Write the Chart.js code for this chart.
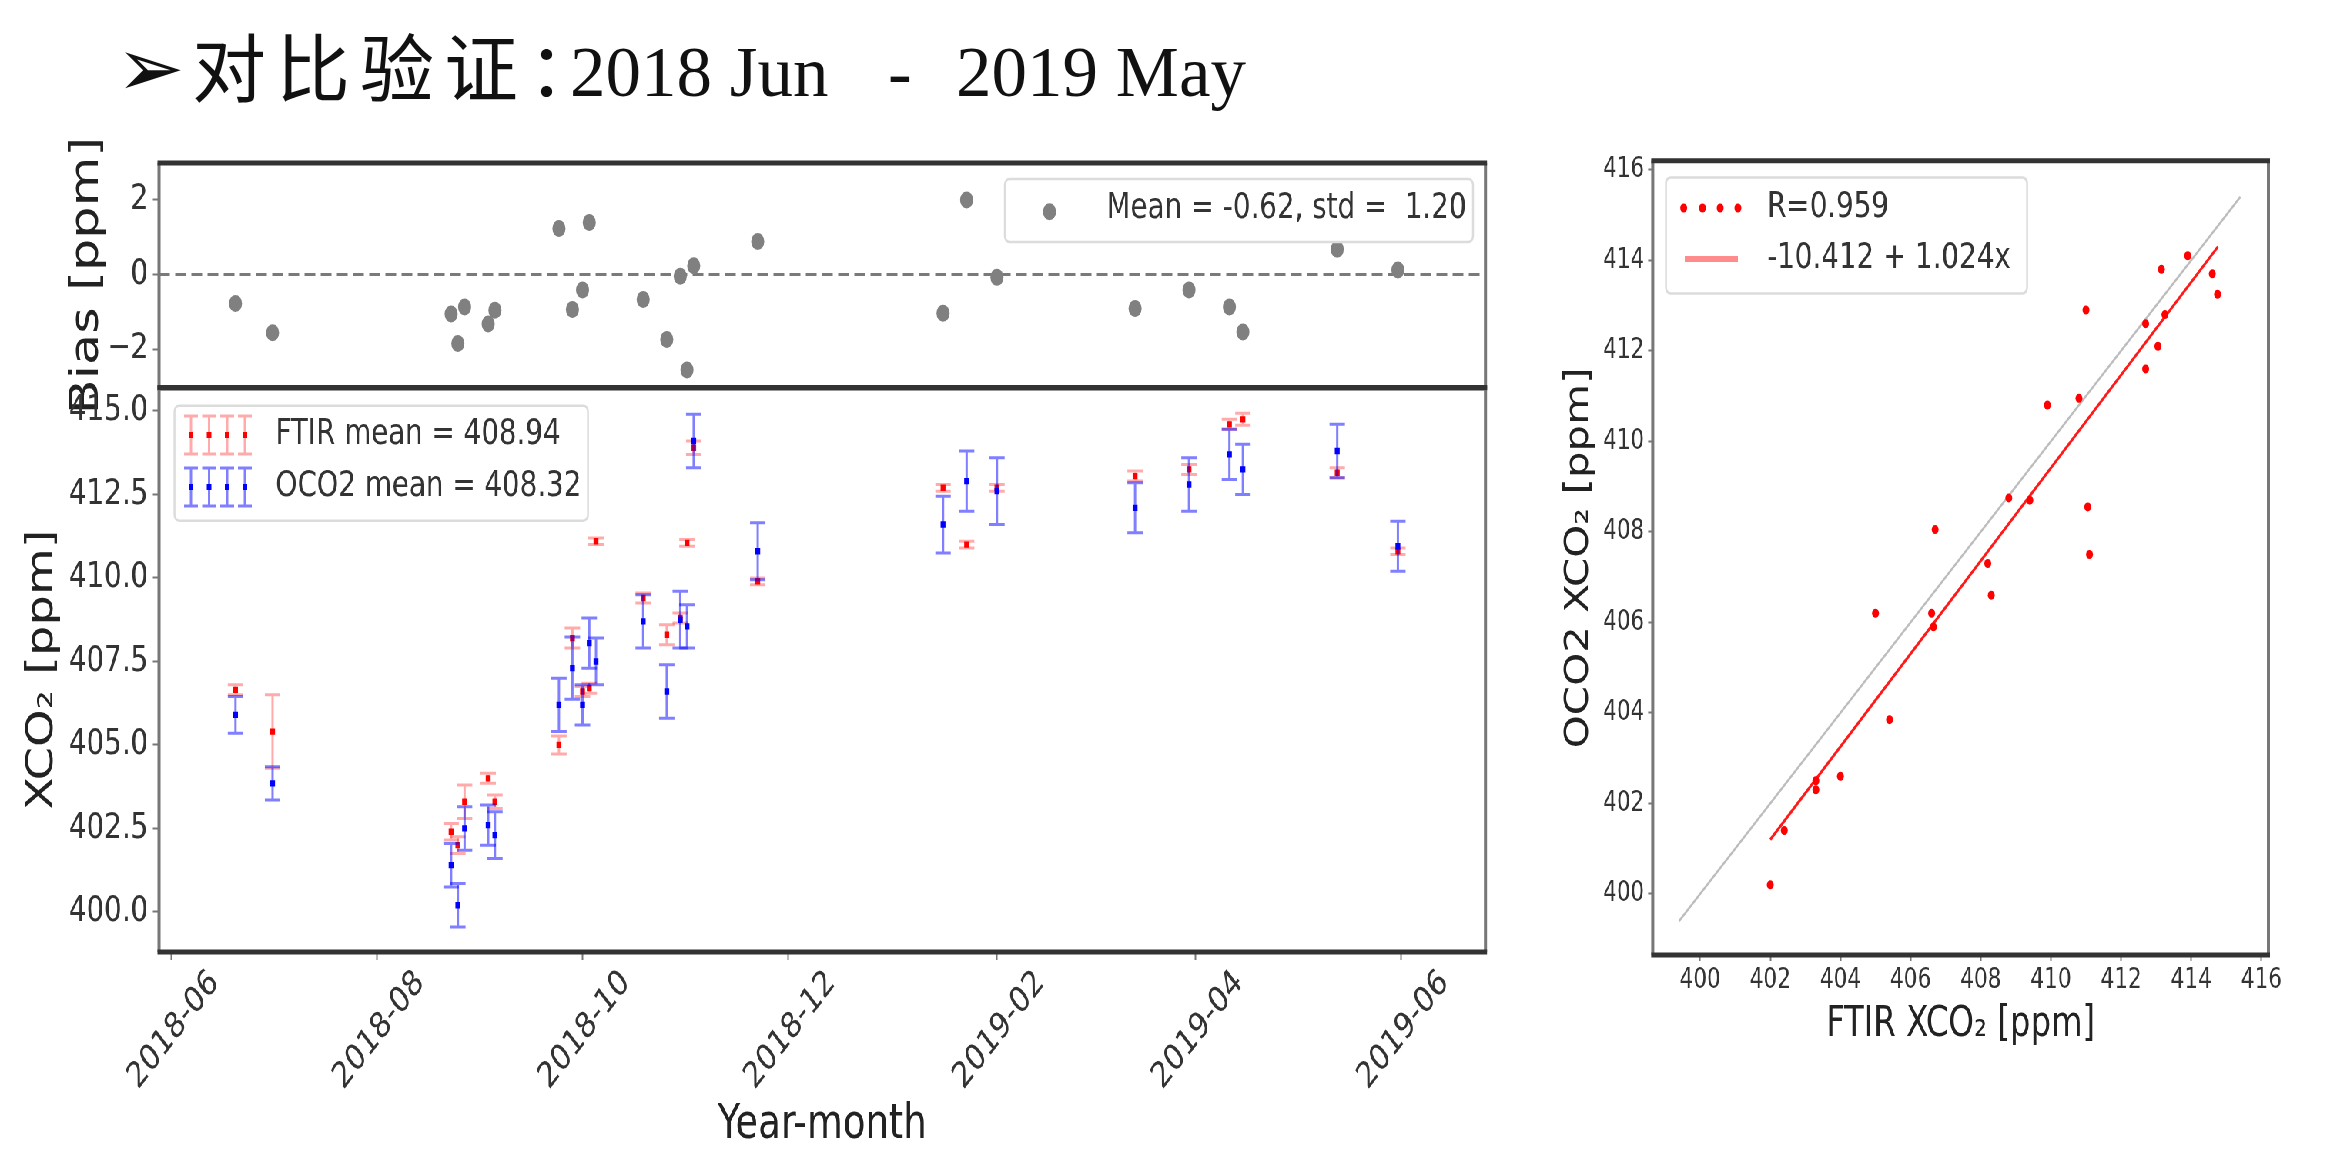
<!DOCTYPE html>
<html lang="zh">
<head>
<meta charset="UTF-8">
<title>对比验证：2018 Jun - 2019 May</title>
<script src="https://cdn.jsdelivr.net/npm/chart.js@4.4.1/dist/chart.umd.min.js"></script>
<style>
  html, body { margin: 0; padding: 0; background: #fff; }
  body { width: 2336px; height: 1154px; overflow: hidden; position: relative; }
  #title { position: absolute; left: 116px; top: 24px; white-space: nowrap; color: #111;
           font-family: 'Liberation Serif', serif; font-size: 71px; line-height: 80px; }
  #title span { display: inline-block; }
  #title .arrow { width: 76px; font-family: 'DejaVu Sans', sans-serif; font-size: 82px; }
  #title .cjk { width: 378px; font-family: 'Noto Sans CJK SC', sans-serif; font-size: 74px; letter-spacing: 10px; }
  /* the original slide image is squeezed horizontally, so the charts are drawn wide and squeezed back */
  #stage { position: absolute; left: 0; top: 0; width: 3034px; height: 1154px;
           transform: scaleX(0.77); transform-origin: 0 0; }
  #stage canvas { position: absolute; }
</style>
</head>
<body>
<div id="title"><span class="arrow">➢</span><span class="cjk">对比验证：</span><span style="width:318px">2018 Jun</span><span style="width:68px">-</span><span>2019 May</span></div>

<div id="stage">
  <canvas id="biasChart" width="1950" height="300" style="left:0;top:120px"></canvas>
  <canvas id="xco2Chart" width="1950" height="794" style="left:0;top:360px"></canvas>
  <canvas id="scatterChart" width="1034" height="1034" style="left:1960px;top:120px"></canvas>
</div>

<script>
// ---- values ----
const obsDates = ['2018-06-20', '2018-07-01', '2018-08-23', '2018-08-25', '2018-08-27', '2018-09-03',
                  '2018-09-05', '2018-09-24', '2018-09-28', '2018-10-01', '2018-10-03', '2018-10-05',
                  '2018-10-19', '2018-10-26', '2018-10-30', '2018-11-01', '2018-11-03', '2018-11-22',
                  '2019-01-16', '2019-01-23', '2019-02-01', '2019-03-14', '2019-03-30', '2019-04-11',
                  '2019-04-15', '2019-05-13', '2019-05-31'];
const ftirXco2 = [406.65, 405.4, 402.4, 402.0, 403.3, 404.0, 403.3, 405.0, 408.2, 406.6, 406.7, 411.1,
                  409.4, 408.3, 408.8, 411.05, 413.9, 409.9, 412.7, 411.0, 412.7, 413.05, 413.25, 414.6,
                  414.75, 413.15, 410.8];
const ftirErr  = [0.15, 1.1, 0.25, 0.25, 0.5, 0.15, 0.2, 0.27, 0.3, 0.15, 0.15, 0.1,
                  0.15, 0.3, 0.15, 0.1, 0.2, 0.1, 0.1, 0.1, 0.1, 0.15, 0.15, 0.15,
                  0.18, 0.15, 0.1];
const oco2Xco2 = [405.9, 403.85, 401.4, 400.2, 402.5, 402.6, 402.3, 406.2, 407.3, 406.2, 408.05, 407.5,
                  408.7, 406.6, 408.75, 408.55, 414.1, 410.8, 411.6, 412.9, 412.6, 412.1, 412.8, 413.7,
                  413.25, 413.8, 410.95];
const oco2Err  = [0.55, 0.5, 0.65, 0.65, 0.65, 0.6, 0.7, 0.8, 0.93, 0.6, 0.75, 0.7,
                  0.8, 0.8, 0.85, 0.65, 0.8, 0.85, 0.85, 0.9, 1.0, 0.75, 0.8, 0.75,
                  0.75, 0.8, 0.75];
const biasPpm  = [-0.78, -1.56, -1.06, -1.85, -0.87, -1.33, -0.96, 1.23, -0.94, -0.42, 1.39, -3.6,
                  -0.67, -1.74, -0.05, -2.56, 0.23, 0.88, -1.04, 1.99, -0.08, -0.91, -0.42, -0.87,
                  -1.54, 0.67, 0.12];

const monthTicks  = ['2018-06-01', '2018-08-01', '2018-10-01', '2018-12-01', '2019-02-01', '2019-04-01', '2019-06-01'];
const monthLabels = ['2018-06', '2018-08', '2018-10', '2018-12', '2019-02', '2019-04', '2019-06'];
const xco2Ticks    = [400, 402.5, 405, 407.5, 410, 412.5, 415];
const biasTicks    = [-2, 0, 2];
const scatterTicks = [400, 402, 404, 406, 408, 410, 412, 414, 416];

// fitted line end points and the 1:1 line, as drawn
const fitX = [402.0, 414.76];
const fitY = [401.2, 414.3];
const oneToOne = [399.4, 415.4];

const biasLegend = 'Mean = -0.62, std =  1.20';
const ftirLegend = 'FTIR mean = 408.94';
const oco2Legend = 'OCO2 mean = 408.32';
const rLegend = 'R=0.959';
const fitLegend = '-10.412 + 1.024x';

// axis limits
const dayMin = -3.7, dayMax = 390;
const xco2Min = 398.8, xco2Max = 415.7;
const biasMin = -3.04, biasMax = 2.98;
const scMin = 398.65, scMax = 416.2;

const FONT = "'DejaVu Sans', 'Noto Sans', sans-serif";
Chart.defaults.font.family = FONT;
Chart.defaults.color = '#333';

const DAY0 = Date.UTC(2018, 5, 1);
const dayOf = s => (Date.parse(s) - DAY0) / 86400000;

const tickGrid = { drawOnChartArea: false, drawTicks: true, tickLength: 8, tickWidth: 2, tickColor: '#777' };

// matplotlib-like axes frame
const framePlugin = {
  id: 'frame',
  afterDatasetsDraw(chart) {
    const { ctx, chartArea: a } = chart;
    ctx.save();
    ctx.lineWidth = 4;
    ctx.strokeStyle = '#777';
    ctx.beginPath();
    ctx.moveTo(a.left, a.top); ctx.lineTo(a.left, a.bottom);
    ctx.moveTo(a.right, a.top); ctx.lineTo(a.right, a.bottom);
    ctx.stroke();
    ctx.lineWidth = 5;
    ctx.strokeStyle = '#333';
    ctx.beginPath();
    ctx.moveTo(a.left - 2, a.top); ctx.lineTo(a.right + 2, a.top);
    ctx.moveTo(a.left - 2, a.bottom); ctx.lineTo(a.right + 2, a.bottom);
    ctx.stroke();
    ctx.restore();
  }
};

function legendBox(ctx, x, y, w, h) {
  ctx.save();
  ctx.fillStyle = 'rgba(255,255,255,0.85)';
  ctx.strokeStyle = '#dcdcdc';
  ctx.lineWidth = 2.5;
  ctx.beginPath();
  ctx.roundRect(x, y, w, h, 6);
  ctx.fill();
  ctx.stroke();
  ctx.restore();
}

function errorBar(ctx, x, y0, y1, cap) {
  ctx.beginPath();
  ctx.moveTo(x, y0); ctx.lineTo(x, y1);
  ctx.moveTo(x - cap, y0); ctx.lineTo(x + cap, y0);
  ctx.moveTo(x - cap, y1); ctx.lineTo(x + cap, y1);
  ctx.stroke();
}

// error bars go under each dataset's own markers
const errorBarPlugin = {
  id: 'errorBars',
  beforeDatasetDraw(chart, args) {
    const ds = chart.data.datasets[args.index];
    if (!ds.errors) return;
    const { ctx, scales: { x, y } } = chart;
    ctx.save();
    ctx.strokeStyle = ds.errorColor;
    ctx.lineWidth = 3;
    ds.data.forEach((p, i) => {
      const px = x.getPixelForValue(p.x);
      errorBar(ctx, px, y.getPixelForValue(p.y - ds.errors[i]), y.getPixelForValue(p.y + ds.errors[i]), 10);
    });
    ctx.restore();
  }
};

// ---------- bias panel ----------
new Chart(document.getElementById('biasChart'), {
  type: 'scatter',
  data: {
    datasets: [
      {
        data: obsDates.map((d, i) => ({ x: dayOf(d), y: biasPpm[i] })),
        backgroundColor: '#808080', borderWidth: 0, pointRadius: 8.5, clip: 0
      },
      {
        data: [{ x: dayMin, y: 0 }, { x: dayMax, y: 0 }],
        showLine: true, borderColor: '#7a7a7a', borderWidth: 3, borderDash: [14, 7], pointRadius: 0
      }
    ]
  },
  options: {
    responsive: false, animation: false, events: [],
    layout: { padding: { left: 0, right: 20.8, top: 43, bottom: 32 } },
    plugins: { legend: { display: false }, tooltip: { enabled: false } },
    scales: {
      x: { type: 'linear', display: false, min: dayMin, max: dayMax },
      y: {
        min: biasMin, max: biasMax,
        afterBuildTicks: s => { s.ticks = biasTicks.map(v => ({ value: v })); },
        afterFit: s => { s.width = 206.5; },
        ticks: { font: { size: 36 }, padding: 6, callback: v => (v < 0 ? '\u2212' + Math.abs(v) : String(v)) },
        grid: tickGrid,
        border: { display: false },
        title: { display: true, text: 'Bias [ppm]', color: '#222', font: { size: 51 }, padding: { top: 83, bottom: 0 } }
      }
    }
  },
  plugins: [framePlugin, {
    id: 'biasLegend',
    afterDraw(chart) {
      const ctx = chart.ctx;
      legendBox(ctx, 1305, 59, 608, 63);
      ctx.save();
      ctx.fillStyle = '#808080';
      ctx.beginPath();
      ctx.arc(1363, 91.7, 8.5, 0, Math.PI * 2);
      ctx.fill();
      ctx.fillStyle = '#333';
      ctx.font = '36px ' + FONT;
      ctx.textBaseline = 'middle';
      ctx.fillText(biasLegend, 1437, 89);
      ctx.restore();
    }
  }]
});

// ---------- XCO2 time series ----------
new Chart(document.getElementById('xco2Chart'), {
  type: 'scatter',
  data: {
    datasets: [
      {
        label: 'OCO2',
        data: obsDates.map((d, i) => ({ x: dayOf(d), y: oco2Xco2[i] })),
        errors: oco2Err, errorColor: 'rgba(0,0,255,0.5)',
        backgroundColor: '#0000ff', borderWidth: 0, pointRadius: 4.5, pointStyle: 'rect'
      },
      {
        label: 'FTIR',
        data: obsDates.map((d, i) => ({ x: dayOf(d), y: ftirXco2[i] })),
        errors: ftirErr, errorColor: 'rgba(255,0,0,0.33)',
        backgroundColor: '#ff0000', borderWidth: 0, pointRadius: 4.5, pointStyle: 'rect'
      }
    ]
  },
  options: {
    responsive: false, animation: false, events: [],
    // the y tick labels add 27.6px above the plot area
    layout: { padding: { left: 0, right: 20.8, top: 0, bottom: 0 } },
    plugins: { legend: { display: false }, tooltip: { enabled: false } },
    scales: {
      x: {
        type: 'linear', min: dayMin, max: dayMax,
        afterBuildTicks: s => { s.ticks = monthTicks.map(d => ({ value: dayOf(d) })); },
        afterFit: s => { s.height = 202; },
        ticks: {
          autoSkip: false, minRotation: 45, maxRotation: 45, labelOffset: 56, padding: 2,
          font: { size: 36 }, callback: (v, i) => monthLabels[i]
        },
        grid: tickGrid,
        border: { display: false },
        title: { display: true, text: 'Year-month', color: '#222', font: { size: 48 }, padding: { top: 0, bottom: 0 } }
      },
      y: {
        min: xco2Min, max: xco2Max,
        afterBuildTicks: s => { s.ticks = xco2Ticks.map(v => ({ value: v })); },
        afterFit: s => { s.width = 206.5; },
        ticks: { font: { size: 36 }, padding: 6, callback: v => v.toFixed(1) },
        grid: tickGrid,
        border: { display: false },
        title: { display: true, text: 'XCO\u2082 [ppm]', color: '#222', font: { size: 48 }, padding: { top: 27, bottom: 0 } }
      }
    }
  },
  plugins: [errorBarPlugin, framePlugin, {
    id: 'xco2Legend',
    afterDraw(chart) {
      const ctx = chart.ctx;
      legendBox(ctx, 226.6, 45.7, 537, 115);
      const rows = [
        { y: 75, text: ftirLegend, bar: 'rgba(255,0,0,0.33)', dot: '#ff0000' },
        { y: 127, text: oco2Legend, bar: 'rgba(0,0,255,0.5)', dot: '#0000ff' }
      ];
      ctx.save();
      rows.forEach(r => {
        [248, 271.5, 295, 318].forEach(x => {
          ctx.strokeStyle = r.bar;
          ctx.lineWidth = 3;
          errorBar(ctx, x, r.y - 19, r.y + 19, 9);
          ctx.fillStyle = r.dot;
          ctx.fillRect(x - 3, r.y - 3, 6, 6);
        });
        ctx.fillStyle = '#333';
        ctx.font = '36px ' + FONT;
        ctx.textBaseline = 'middle';
        ctx.fillText(r.text, 357.8, r.y);
      });
      ctx.restore();
    }
  }]
});

// ---------- FTIR vs OCO2 scatter ----------
new Chart(document.getElementById('scatterChart'), {
  type: 'scatter',
  data: {
    datasets: [
      {
        data: ftirXco2.map((v, i) => ({ x: v, y: oco2Xco2[i] })),
        backgroundColor: '#ff0000', borderWidth: 0, pointRadius: 4.5
      },
      {
        data: fitX.map((v, i) => ({ x: v, y: fitY[i] })),
        showLine: true, borderColor: 'rgba(255,0,0,0.9)', borderWidth: 3, pointRadius: 0
      },
      {
        data: oneToOne.map(v => ({ x: v, y: v })),
        showLine: true, borderColor: '#bdbdbd', borderWidth: 2.5, pointRadius: 0
      }
    ]
  },
  options: {
    responsive: false, animation: false, events: [],
    layout: { padding: { left: 0, right: 48, top: 40.7, bottom: 0 } },
    plugins: { legend: { display: false }, tooltip: { enabled: false } },
    scales: {
      x: {
        type: 'linear', min: scMin, max: scMax,
        afterBuildTicks: s => { s.ticks = scatterTicks.map(v => ({ value: v })); },
        afterFit: s => { s.height = 199; },
        ticks: { font: { size: 28 }, padding: 3, maxRotation: 0 },
        grid: { ...tickGrid, tickLength: 6 },
        border: { display: false },
        title: { display: true, text: 'FTIR XCO\u2082 [ppm]', color: '#222', font: { size: 42 }, padding: { top: 0, bottom: 104 } }
      },
      y: {
        min: scMin, max: scMax,
        afterBuildTicks: s => { s.ticks = scatterTicks.map(v => ({ value: v })); },
        afterFit: s => { s.width = 186.4; },
        ticks: { font: { size: 28 }, padding: 5 },
        grid: { ...tickGrid, tickLength: 6 },
        border: { display: false },
        title: { display: true, text: 'OCO2 XCO\u2082 [ppm]', color: '#222', font: { size: 42 }, padding: { top: 66, bottom: 0 } }
      }
    }
  },
  plugins: [framePlugin, {
    id: 'scatterLegend',
    afterDraw(chart) {
      const ctx = chart.ctx;
      legendBox(ctx, 203.6, 57.5, 469, 116);
      ctx.save();
      ctx.fillStyle = '#ff0000';
      [226.6, 251, 274, 297].forEach(x => {
        ctx.beginPath();
        ctx.arc(x, 88, 4.5, 0, Math.PI * 2);
        ctx.fill();
      });
      ctx.strokeStyle = 'rgba(255,0,0,0.45)';
      ctx.lineWidth = 6;
      ctx.beginPath();
      ctx.moveTo(228, 139); ctx.lineTo(297, 139);
      ctx.stroke();
      ctx.fillStyle = '#333';
      ctx.font = '36px ' + FONT;
      ctx.textBaseline = 'middle';
      ctx.fillText(rLegend, 335, 88);
      ctx.fillText(fitLegend, 335, 139);
      ctx.restore();
    }
  }]
});
</script>
</body>
</html>
